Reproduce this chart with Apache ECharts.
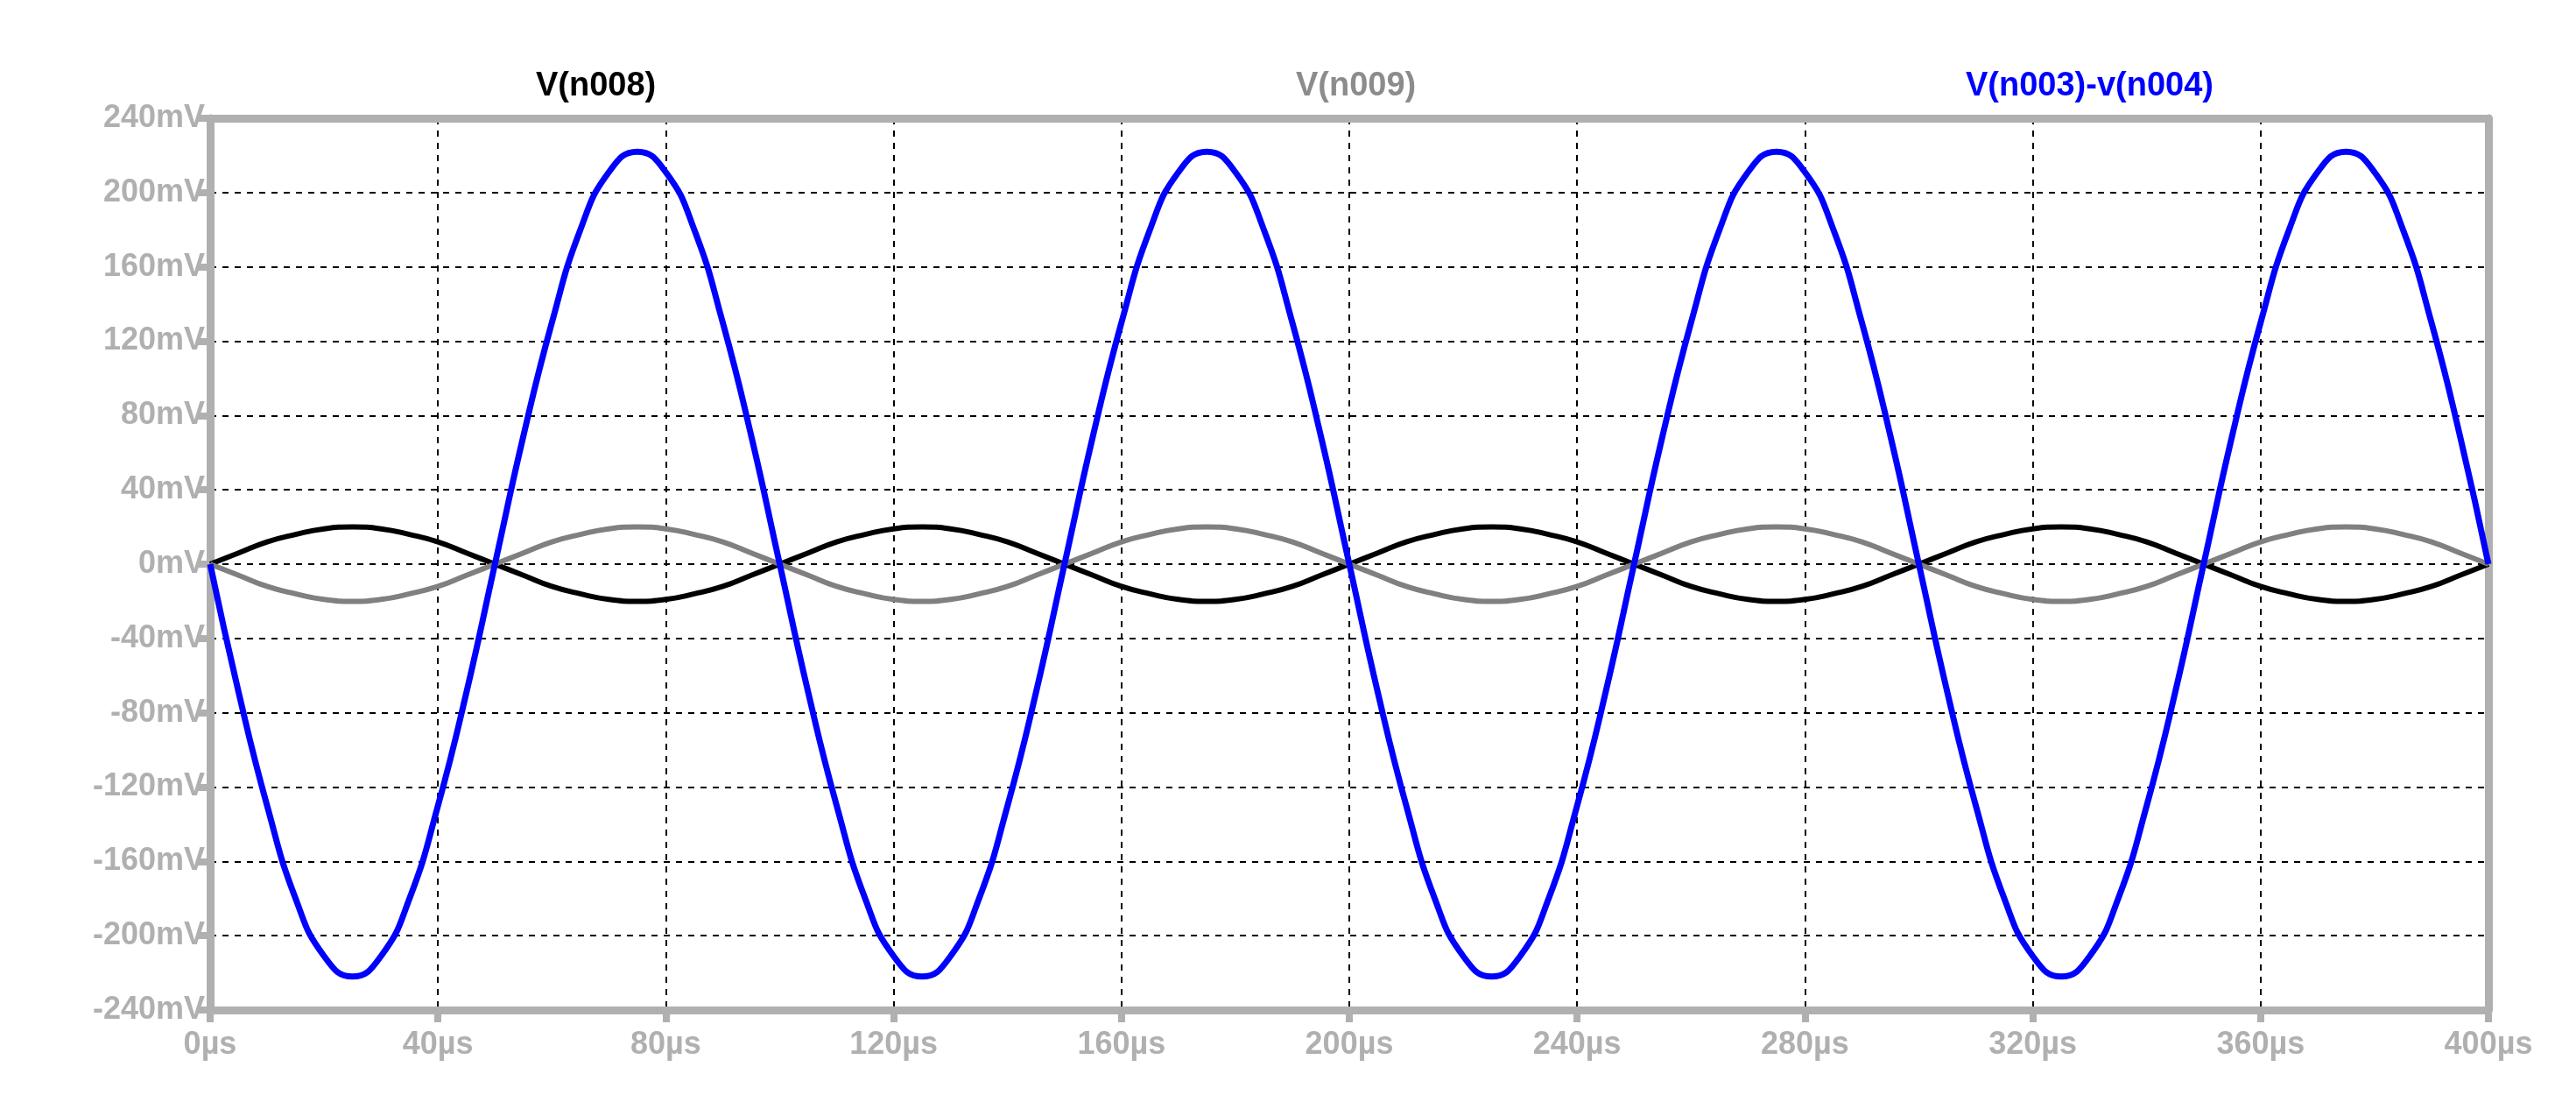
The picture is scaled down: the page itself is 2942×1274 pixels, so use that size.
<!DOCTYPE html>
<html>
<head>
<meta charset="utf-8">
<script src="https://cdn.jsdelivr.net/npm/echarts@6/dist/echarts.min.js"></script>
<style>html,body{margin:0;padding:0;background:#fff}#main{width:2942px;height:1274px}</style>
</head>
<body>
<div id="main"></div>
<script>
var periodBlue = [0, -69, -130, -180, -211, -222, -211, -180, -130, -69, 0, 69, 130, 180, 211, 222, 211, 180, 130, 69];
var periodBlack = [0, 6, 12, 16, 19, 20, 19, 16, 12, 6, 0, -6, -12, -16, -19, -20, -19, -16, -12, -6];
var periodGray = [0, -6, -12, -16, -19, -20, -19, -16, -12, -6, 0, 6, 12, 16, 19, 20, 19, 16, 12, 6];
var stepUs = 5;
var periods = 4;
var names = ['V(n008)', 'V(n009)', 'V(n003)-v(n004)'];

function build(period) {
    var out = [];
    for (var p = 0; p < periods; p++) {
        for (var i = 0; i < period.length; i++) {
            out.push([(p * period.length + i) * stepUs, period[i]]);
        }
    }
    out.push([periods * period.length * stepUs, period[0]]);
    return out;
}

var myChart = echarts.init(document.getElementById('main'));
var gray = '#b0b0b0';
var lblFont = {color: gray, fontSize: 36, fontWeight: 'bold', fontFamily: 'Liberation Sans, Arial'};
var frameLine = {show: true, onZero: false, lineStyle: {color: gray, width: 9}};
var dashed = {show: true, lineStyle: {color: '#000', width: 2, type: [7, 7]}};

var option = {
    animation: false,
    grid: {left: 240, right: 100, top: 135, bottom: 121},
    graphic: [
        {type: 'text', left: 612, top: 80, style: {text: names[0], fill: '#000', font: 'bold 38px Liberation Sans'}},
        {type: 'text', left: 1480, top: 80, style: {text: names[1], fill: '#8c8c8c', font: 'bold 38px Liberation Sans'}},
        {type: 'text', left: 2245, top: 80, style: {text: names[2], fill: '#0000ff', font: 'bold 38px Liberation Sans'}}
    ],
    xAxis: [
        {
            type: 'value', min: 0, max: 400, interval: 40,
            axisLine: frameLine,
            axisTick: {show: true, length: 14, lineStyle: {color: gray, width: 8}},
            axisLabel: Object.assign({formatter: function (v) { return v + 'µs'; }, margin: 22}, lblFont),
            splitLine: dashed
        },
        {
            type: 'value', position: 'top', min: 0, max: 400, interval: 40,
            axisLine: frameLine, axisTick: {show: false}, axisLabel: {show: false}, splitLine: {show: false}
        }
    ],
    yAxis: [
        {
            type: 'value', min: -240, max: 240, interval: 40,
            axisLine: frameLine,
            axisTick: {show: true, length: 14, lineStyle: {color: gray, width: 8}},
            axisLabel: Object.assign({formatter: function (v) { return v + 'mV'; }, margin: 6}, lblFont),
            splitLine: dashed
        },
        {
            type: 'value', position: 'right', min: -240, max: 240, interval: 40,
            axisLine: frameLine, axisTick: {show: false}, axisLabel: {show: false}, splitLine: {show: false}
        }
    ],
    series: [
        {name: names[0], type: 'line', smooth: true, showSymbol: false, data: build(periodBlack),
            lineStyle: {color: '#000', width: 6}, z: 3},
        {name: names[1], type: 'line', smooth: true, showSymbol: false, data: build(periodGray),
            lineStyle: {color: '#808080', width: 6}, z: 3},
        {name: names[2], type: 'line', smooth: true, showSymbol: false, data: build(periodBlue),
            lineStyle: {color: '#0000ff', width: 7}, z: 4}
    ]
};

myChart.setOption(option);
</script>
</body>
</html>
